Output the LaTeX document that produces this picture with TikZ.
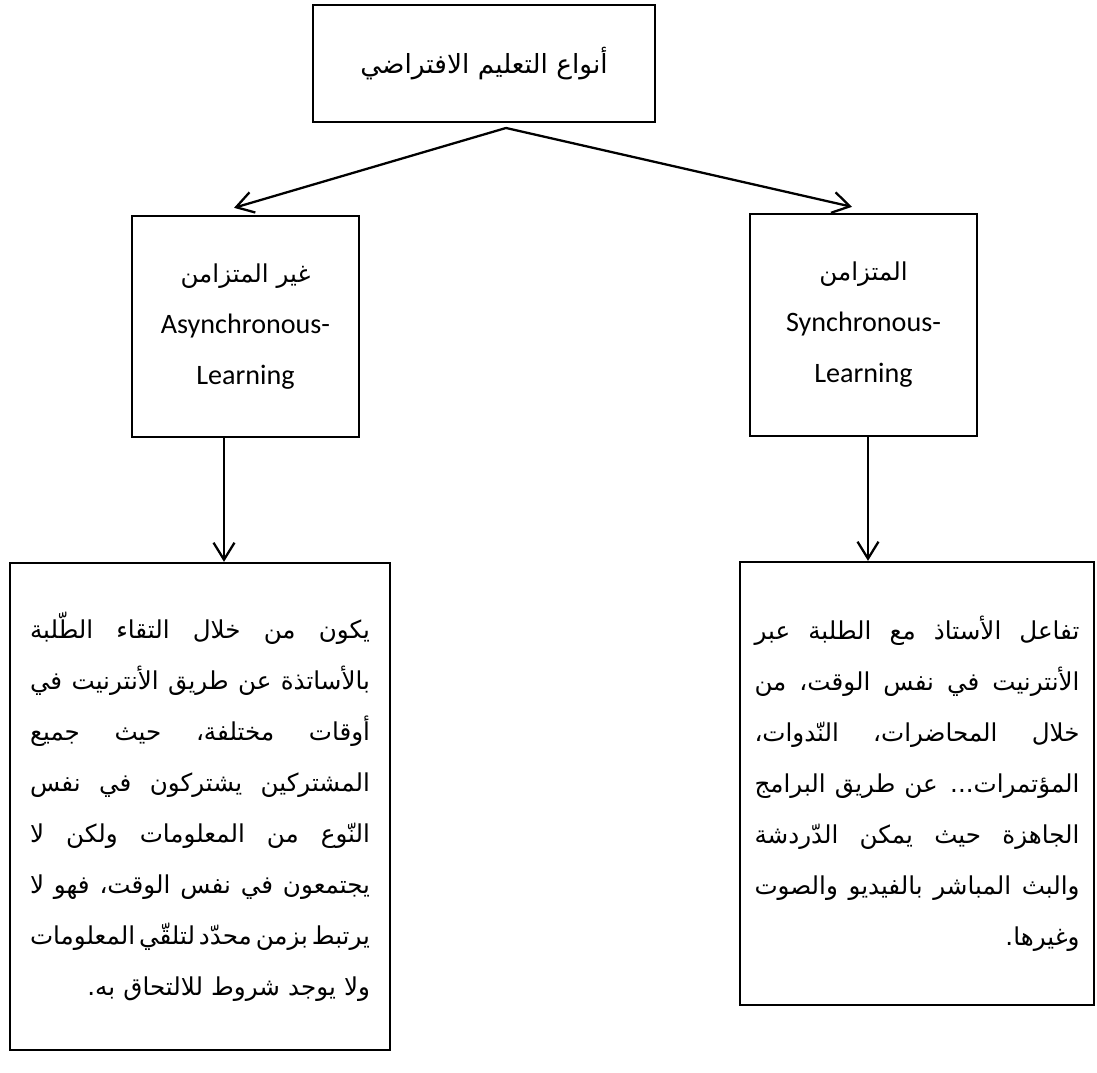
\documentclass[tikz,border=0pt]{standalone}
\usepackage{fontspec}
\setmainfont{Carlito}
\newfontfamily\arabicfont[Script=Arabic]{DejaVu Sans}
\TeXXeTstate=1
\usetikzlibrary{arrows.meta}

\newcommand{\jline}[1]{\hbox to \hsize{\spaceskip=0.25em plus 1fil minus 0.2em\beginR #1\endR}}
\newcommand{\lastline}[1]{\hbox to \hsize{\hfill\beginR #1\endR}}

\tikzset{
  box/.style={draw, line width=1.3pt, inner sep=0pt, align=center},
  descbox/.style={draw, line width=1.3pt, inner sep=0pt, font=\arabicfont\fontsize{14}{29}\selectfont},
  arr/.style={line width=1.3pt, -{Straight Barb[length=3.4mm,width=4.2mm]}}
}

\begin{document}
\begin{tikzpicture}
        \useasboundingbox (0,0) rectangle (21.94,21.46);
        \node[box, minimum width=6.84cm, minimum height=2.34cm, font=\arabicfont\fontsize{15}{29}\selectfont] (kinds) at (9.68,20.19) {\beginR أنواع التعليم الافتراضي\endR};
        \node[box, minimum width=4.54cm, minimum height=4.42cm, font=\fontsize{16}{29}\selectfont] (async) at (4.91,14.93) {{\arabicfont\fontsize{14}{29}\selectfont\beginR غير المتزامن\endR}\\Asynchronous-\\Learning};
        \node[box, minimum width=4.54cm, minimum height=4.44cm, font=\fontsize{16}{29}\selectfont] (sync) at (17.27,14.96) {{\arabicfont\fontsize{14}{29}\selectfont\beginR المتزامن\endR}\\Synchronous-\\Learning};
        \node[descbox, minimum width=7.60cm, minimum height=9.74cm, text width=6.8cm] (asyncinfo) at (4.00,5.33) {%
            \jline{يكون من خلال التقاء الطّلبة}
            \jline{بالأساتذة عن طريق الأنترنيت في}
            \jline{أوقات مختلفة، حيث جميع}
            \jline{المشتركين يشتركون في نفس}
            \jline{النّوع من المعلومات ولكن لا}
            \jline{يجتمعون في نفس الوقت، فهو لا}
            \jline{يرتبط بزمن محدّد لتلقّي المعلومات}
            \lastline{ولا يوجد شروط للالتحاق به.}};
        \node[descbox, minimum width=7.08cm, minimum height=8.86cm, text width=6.5cm] (syncinfo) at (18.34,5.79) {%
            \jline{تفاعل الأستاذ مع الطلبة عبر}
            \jline{الأنترنيت في نفس الوقت، من}
            \jline{خلال المحاضرات، النّدوات،}
            \jline{المؤتمرات... عن طريق البرامج}
            \jline{الجاهزة حيث يمكن الدّردشة}
            \jline{والبث المباشر بالفيديو والصوت}
            \lastline{وغيرها.}};
        \coordinate (fork) at (10.12,18.90);
        \draw[arr] (fork) -- ([shift={(-0.23,0.14)}]async.north);
        \draw[arr] (fork) -- ([shift={(-0.23,0.12)}]sync.north);
        \draw[arr] ([xshift=-0.43cm]async.south) -- ([xshift=-0.43cm]async.south |- asyncinfo.north);
        \draw[arr] ([xshift=0.09cm]sync.south) -- ([xshift=0.09cm]sync.south |- syncinfo.north);
    \end{tikzpicture}
\end{document}
